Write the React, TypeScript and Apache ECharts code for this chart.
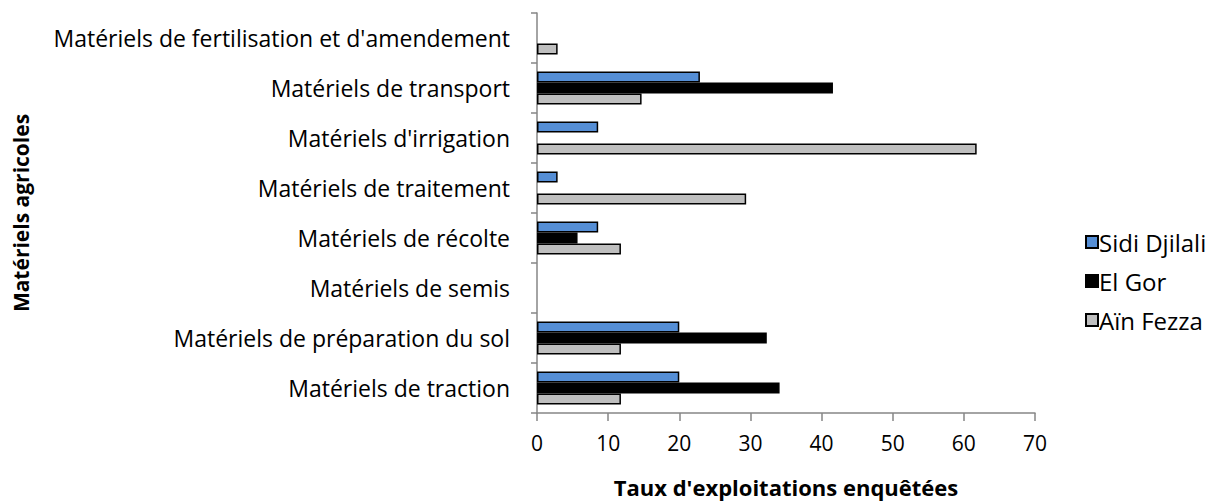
import React, { useEffect, useRef } from "react";
import * as echarts from "echarts";

const categories = [
  "Matériels de traction",
  "Matériels de préparation du sol",
  "Matériels de semis",
  "Matériels de récolte",
  "Matériels de traitement",
  "Matériels d'irrigation",
  "Matériels de transport",
  "Matériels de fertilisation et d'amendement",
];
const sidiDjilali = [20, 20, null, 8.6, 2.9, 8.6, 22.9, null];
const elGor = [34.1, 32.3, null, 5.7, null, null, 41.6, null];
const ainFezza = [11.8, 11.8, null, 11.8, 29.4, 61.8, 14.7, 2.9];
const seriesNames = ["Sidi Djilali", "El Gor", "Aïn Fezza"];
const colors = ["#558ED5", "#000000", "#BFBFBF"];

const FONT = "'Open Sans', Lato, sans-serif";

export default function App() {
  const ref = useRef<HTMLDivElement>(null);
  useEffect(() => {
    if (!ref.current) return;
    const chart = echarts.init(ref.current, undefined, { renderer: "svg" });
    const data = [sidiDjilali, elGor, ainFezza];
    chart.setOption({
      animation: false,
      textStyle: { fontFamily: FONT },
      grid: { left: 537, right: 195, top: 13, bottom: 90, containLabel: false },
      legend: {
        orient: "vertical",
        left: 1080,
        top: 225,
        itemWidth: 12,
        itemHeight: 12,
        itemGap: 15,
        icon: "rect",
        textStyle: { fontSize: 24, color: "#000", fontFamily: FONT, padding: [0, 0, 0, -4] },
        data: seriesNames,
      },
      xAxis: {
        type: "value",
        min: 0,
        max: 70,
        interval: 10,
        name: "Taux d'exploitations enquêtées",
        nameLocation: "middle",
        nameGap: 63,
        nameTextStyle: { fontSize: 22, fontWeight: "bold", color: "#000", fontFamily: FONT },
        axisLine: { show: true, lineStyle: { color: "#868686", width: 1.5 } },
        axisTick: { show: true, length: 8, lineStyle: { color: "#868686", width: 1.5 } },
        axisLabel: { fontSize: 21, color: "#000", margin: 19, fontFamily: FONT },
        splitLine: { show: false },
      },
      yAxis: {
        type: "category",
        data: categories,
        name: "Matériels agricoles",
        nameLocation: "middle",
        nameGap: 506,
        nameTextStyle: { fontSize: 21, fontWeight: "bold", color: "#000", fontFamily: FONT },
        axisLine: { show: true, lineStyle: { color: "#868686", width: 1.5 } },
        axisTick: { show: true, length: 6, lineStyle: { color: "#868686", width: 1.5 } },
        axisLabel: { fontSize: 23, color: "#000", margin: 27, fontFamily: FONT },
      },
      series: seriesNames.map((name, i) => ({
        name,
        type: "bar",
        data: data[i],
        barGap: "0%",
        barCategoryGap: "34%",
        itemStyle: { color: colors[i], borderColor: "#000", borderWidth: 1.5 },
      })),
    });
    return () => chart.dispose();
  }, []);
  return (
    <div
      ref={ref}
      style={{ position: "fixed", left: 0, top: 0, width: 1230, height: 503, background: "#fff" }}
    />
  );
}
